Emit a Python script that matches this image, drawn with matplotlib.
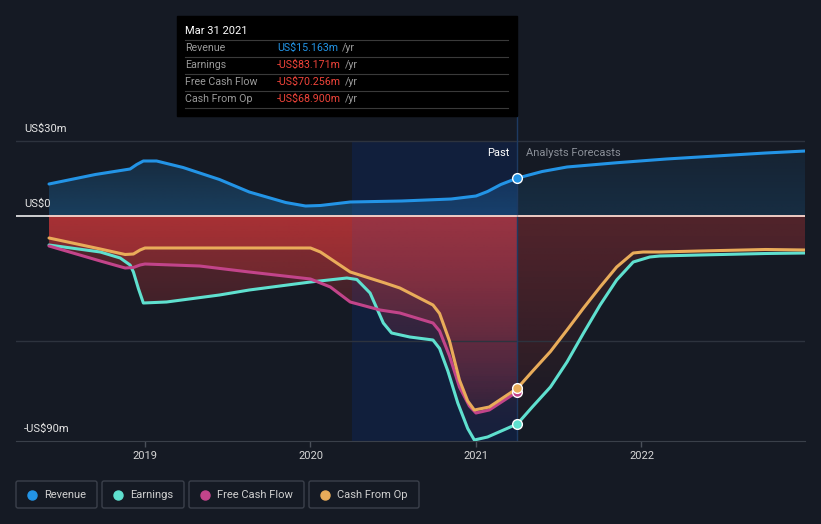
import matplotlib

matplotlib.use("Agg")
import matplotlib.pyplot as plt  # noqa: E402
import numpy as np  # noqa: E402
from matplotlib.colors import to_rgb  # noqa: E402
from matplotlib.patches import FancyBboxPatch, Rectangle  # noqa: E402

plt.rcParams["font.family"] = ["Roboto", "DejaVu Sans"]

# values in US$m, x in decimal years
rev_x = [2018.42, 2018.70, 2018.91, 2018.95, 2018.99, 2019.07, 2019.23, 2019.45,
         2019.63, 2019.85, 2019.97, 2020.06, 2020.24, 2020.55, 2020.85, 2021.00,
         2021.07, 2021.15, 2021.25, 2021.40, 2021.55, 2021.85, 2022.15, 2022.45,
         2022.75, 2022.99]
rev_y = [12.8, 16.6, 18.8, 20.6, 22.0, 22.0, 19.4, 14.6,
         9.6, 5.4, 4.0, 4.2, 5.6, 6.0, 6.8, 8.0,
         9.8, 12.6, 15.163, 17.8, 19.6, 21.3, 22.8, 24.0,
         25.2, 26.0]

earn_x = [2018.42, 2018.73, 2018.85, 2018.91, 2018.93, 2018.96, 2018.99, 2019.13,
          2019.45, 2019.63, 2020.00, 2020.22, 2020.28, 2020.36, 2020.44, 2020.49,
          2020.60, 2020.74, 2020.78, 2020.83, 2020.89, 2020.95, 2020.99, 2021.07,
          2021.25, 2021.34, 2021.45, 2021.55, 2021.65, 2021.75, 2021.85, 2021.95,
          2022.05, 2022.11, 2022.35, 2022.75, 2022.99]
earn_y = [-11.6, -14.4, -16.8, -19.6, -22.4, -29.0, -34.8, -34.4,
          -31.6, -29.6, -26.4, -24.8, -25.4, -30.8, -42.8, -46.8,
          -48.4, -49.6, -53.0, -62.0, -74.8, -85.0, -89.6, -88.4,
          -83.171, -76.4, -68.4, -58.4, -46.8, -35.6, -25.6, -18.4,
          -16.4, -16.0, -15.6, -15.0, -14.8]

fcf_x = [2018.42, 2018.73, 2018.88, 2018.93, 2018.97, 2019.00, 2019.33, 2019.63,
         2020.00, 2020.12, 2020.24, 2020.42, 2020.54, 2020.74, 2020.78, 2020.84,
         2020.90, 2020.96, 2021.00, 2021.08, 2021.25]
fcf_y = [-12.0, -18.0, -20.8, -20.6, -19.6, -19.2, -20.0, -22.4,
         -25.2, -28.4, -34.4, -37.6, -38.8, -42.8, -46.0, -56.0,
         -68.4, -76.0, -78.8, -77.6, -70.256]

cfo_x = [2018.42, 2018.73, 2018.88, 2018.93, 2018.97, 2019.00, 2020.00, 2020.06,
         2020.24, 2020.45, 2020.54, 2020.74, 2020.78, 2020.84, 2020.90, 2020.95,
         2020.99, 2021.08, 2021.25, 2021.34, 2021.45, 2021.55, 2021.65, 2021.75,
         2021.85, 2021.95, 2022.01, 2022.11, 2022.35, 2022.75, 2022.99]
cfo_y = [-8.8, -13.2, -15.4, -15.2, -13.6, -12.8, -12.8, -14.4,
         -22.4, -26.8, -28.8, -35.6, -39.0, -50.0, -65.6, -74.0,
         -77.6, -76.4, -68.9, -62.2, -54.2, -45.6, -36.8, -28.4,
         -20.4, -14.8, -14.4, -14.4, -14.0, -13.4, -13.6]

years = [2019, 2020, 2021, 2022]
ytick_vals = [30, 0, -90]
ytick_labels = ["US$30m", "US$0", "-US$90m"]

NOW = 2021.25
HL_START = 2020.25
XMIN, XMAX = 2018.2205, 2022.988
YMIN, YMAX = -90, 40

BG = "#151a24"
C_REV = "#2394e6"
C_EARN = "#5fe0cf"
C_FCF = "#c2448a"
C_CFO = "#e9ac5a"
C_RED = "#dc3a3c"

W, H = 821, 524
fig = plt.figure(figsize=(W / 100, H / 100), dpi=100, facecolor=BG)
ax = fig.add_axes([16 / W, (H - 441) / H, (805 - 16) / W, (441 - 116) / H])
ax.set_facecolor(BG)


def grad_fill(ax, x, y, color, a_near, a_far, z):
    x = np.asarray(x)
    y = np.asarray(y)
    poly = ax.fill_between(x, 0, y, color="none", lw=0)
    rgba = np.zeros((256, 1, 4))
    rgba[..., :3] = to_rgb(color)
    rgba[..., 3] = np.linspace(a_near, a_far, 256)[:, None]
    if y.max() > 0:
        ext = [x.min(), x.max(), 0, y.max()]
        img = rgba[::-1]
    else:
        ext = [x.min(), x.max(), YMIN, 0]
        img = rgba
    im = ax.imshow(img, extent=ext, aspect="auto", origin="upper", zorder=z,
                   interpolation="bilinear")
    im.set_clip_path(poly.get_paths()[0], transform=ax.transData)


def split(x, y):
    x = list(x)
    i = x.index(NOW)
    return (x[:i + 1], y[:i + 1]), (x[i:], y[i:])


# highlight of the last year before "now"
ax.fill_between([HL_START, NOW], YMIN, 30, color="#001a4a", alpha=0.35, lw=0, zorder=0.5)

# area fills
(px, py), (fx, fy) = split(rev_x, rev_y)
grad_fill(ax, px, py, C_REV, 0.30, 0.15, 1)
grad_fill(ax, fx, fy, C_REV, 0.16, 0.08, 1)
for sx, sy in [(earn_x, earn_y), (fcf_x, fcf_y), (cfo_x, cfo_y)]:
    (px, py), (fx, fy) = split(sx, sy)
    grad_fill(ax, px, py, C_RED, 0.36, 0.02, 1)
    if len(fx) > 1:
        grad_fill(ax, fx, fy, C_RED, 0.17, 0.02, 1)

ax.fill_between([HL_START, NOW], YMIN, 30, color="#3c50a0", alpha=0.10, lw=0, zorder=1.5)

# grid / zero line
ax.axhline(30, color="#2d333e", lw=1, zorder=2)
ax.axhline(-50, color="#2d333e", lw=1, zorder=2)
ax.axhline(0, color="#ffffff", lw=1.1, zorder=2)
ax.plot([rev_x[0], XMAX], [0, 0], color="#f2c6bc", lw=1.1, zorder=2.1)
ax.axvline(NOW, color="#1d3a62", lw=1, zorder=2)

# lines
kw = dict(lw=2.2, solid_joinstyle="round", solid_capstyle="round", zorder=3)
ax.plot(rev_x, rev_y, color=C_REV, **kw)
ax.plot(earn_x, earn_y, color=C_EARN, **kw)
ax.plot(fcf_x, fcf_y, color=C_FCF, **kw)
ax.plot(cfo_x, cfo_y, color=C_CFO, **kw)

for sx, sy, c in [(rev_x, rev_y, C_REV), (earn_x, earn_y, C_EARN),
                  (fcf_x, fcf_y, C_FCF), (cfo_x, cfo_y, C_CFO)]:
    v = sy[list(sx).index(NOW)]
    ax.plot([NOW], [v], "o", ms=7, mfc=c, mec="white", mew=1, zorder=4)

ax.set_xlim(XMIN, XMAX)
ax.set_ylim(YMIN, YMAX)
for s in ["top", "right", "left"]:
    ax.spines[s].set_visible(False)
ax.spines["bottom"].set_color("#3a404a")
ax.set_yticks([])
ax.set_xticks(years)
ax.set_xticklabels([str(y) for y in years])
ax.tick_params(axis="x", colors="#4a505a", length=4, width=1, labelcolor="#d6d6d6",
               labelsize=8, pad=3)

for v, lab in zip(ytick_vals, ytick_labels):
    ax.text(XMIN + 0.05, v + 3, lab, color="#e6e6e6", fontsize=8, va="bottom", ha="left",
            zorder=5)

ax.text(NOW - 0.05, 25.2, "Past", color="#ffffff", fontsize=8, ha="right", va="center",
        zorder=5)
ax.text(NOW + 0.05, 25.2, "Analysts Forecasts", color="#8a8f98", fontsize=8, ha="left",
        va="center", zorder=5)

# overlay in pixel coordinates for tooltip and legend
ov = fig.add_axes([0, 0, 1, 1], facecolor="none")
ov.set_xlim(0, W)
ov.set_ylim(H, 0)
ov.axis("off")

ov.add_patch(Rectangle((177, 16), 340, 100, color="#000000", zorder=1))
ov.text(185, 31, "Mar 31 2021", color="white", fontsize=8, va="center", zorder=2)
rows = [("Revenue", "US$15.163m", C_REV),
        ("Earnings", "-US$83.171m", "#f0443a"),
        ("Free Cash Flow", "-US$70.256m", "#f0443a"),
        ("Cash From Op", "-US$68.900m", "#f0443a")]
fig.canvas.draw()
for i, (lab, val, c) in enumerate(rows):
    y = 48 + 17 * i
    ov.plot([185, 508], [y - 8.5, y - 8.5], color="#3a3a3a", lw=0.8, zorder=2)
    ov.text(185, y, lab, color="#9a9a9a", fontsize=7.7, va="center", zorder=2)
    t = ov.text(277, y, val, color=c, fontsize=7.7, va="center", zorder=2)
    bb = t.get_window_extent(renderer=fig.canvas.get_renderer())
    x_end = ov.transData.inverted().transform((bb.x1, bb.y0))[0]
    ov.text(x_end + 4, y, "/yr", color="#9a9a9a", fontsize=7.7, va="center", zorder=2)
ov.plot([185, 508], [108, 108], color="#3a3a3a", lw=0.8, zorder=2)

legend = [("Revenue", C_REV, 16, 97), ("Earnings", C_EARN, 102, 184),
          ("Free Cash Flow", C_FCF, 189, 304), ("Cash From Op", C_CFO, 309, 419)]
for lab, c, x0, x1 in legend:
    ov.add_patch(FancyBboxPatch((x0, 481), x1 - x0, 27, boxstyle="round,pad=0,rounding_size=2",
                                fc="none", ec="#3b404b", lw=1))
    ov.plot([x0 + 16], [494.5], "o", ms=6.5, color=c)
    ov.text(x0 + 28, 494.5, lab, color="#d0d0d0", fontsize=8, va="center")

fig.savefig("out.png", dpi=100, facecolor=BG)
